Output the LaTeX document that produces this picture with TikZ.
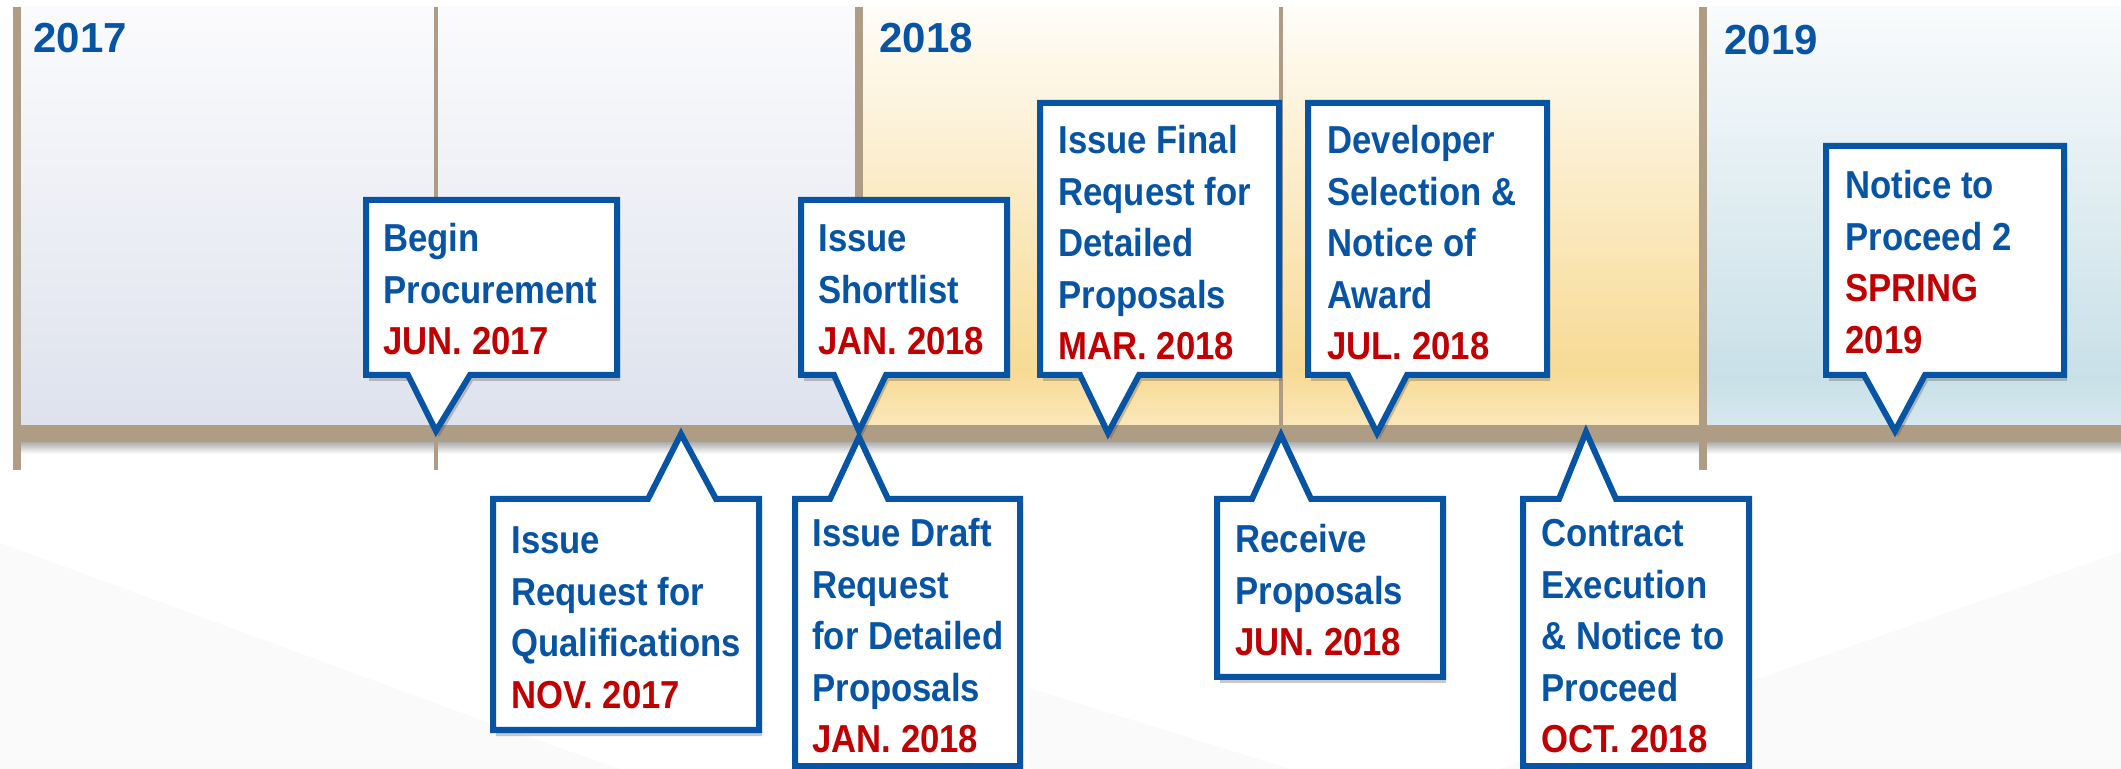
\documentclass[tikz,border=0pt]{standalone}
\usepackage{fontspec}
\setmainfont{Liberation Sans}
\newfontfamily\cfont{Liberation Sans}[FakeStretch=0.89]
\usetikzlibrary{shadows}
\definecolor{cblue}{RGB}{8,84,164}
\definecolor{cred}{RGB}{192,0,0}
\definecolor{bartan}{RGB}{174,156,132}
\definecolor{ptop}{RGB}{251,251,253}
\definecolor{pbot17}{RGB}{222,226,237}
\definecolor{pmid18}{RGB}{247,218,148}
\definecolor{pbot18}{RGB}{250,231,185}
\definecolor{ptop18}{RGB}{255,253,248}
\definecolor{pmid19}{RGB}{200,224,232}
\definecolor{pbot19}{RGB}{214,232,238}
\definecolor{ptop19}{RGB}{249,251,252}
\definecolor{wedge}{RGB}{250,250,251}
\newcommand\cb[1]{\begin{tabular}[t]{@{}l@{}}#1\end{tabular}}
\newcommand\dt[1]{\textcolor{cred}{#1}}
\newcommand\calloutup[7]{%
  \path[callout] (#1,#3) -- (#2,#3) -- (#2,#4) -- (#6,#4) -- (#7) -- (#5,#4) -- (#1,#4) -- cycle;}
\newcommand\calloutdown[7]{%
  \path[callout] (#1,#4) -- (#1,#3) -- (#5,#3) -- (#7) -- (#6,#3) -- (#2,#3) -- (#2,#4) -- cycle;}
\tikzset{
  callout/.style={draw=cblue, line width=3pt, fill=white, line join=miter,
    drop shadow={shadow xshift=1.5pt, shadow yshift=-3pt, opacity=0.3, fill=black!70}},
  txt/.style={anchor=base west, inner sep=0pt, text=cblue,
    font={\cfont\bfseries\fontsize{19.5pt}{25.75pt}\selectfont}},
  yearlbl/.style={anchor=base west, inner sep=0pt, text=cblue,
    font={\bfseries\fontsize{21pt}{25pt}\selectfont}},
  thickline/.style={draw=bartan, line width=4pt},
  thinline/.style={draw=bartan, line width=2pt}
}
\begin{document}
\begin{tikzpicture}[x=0.5pt,y=-0.5pt]
\useasboundingbox (0,0) rectangle (2121,769);
\fill[white] (0,0) rectangle (2121,769);
% faint background wedges
\fill[wedge] (0,543) -- (500,727) -- (620,769) -- (0,769) -- cycle;
\fill[wedge] (1029,688) -- (1290,769) -- (1029,769) -- cycle;
\fill[wedge] (1500,769) -- (2121,552) -- (2121,769) -- cycle;
% panels
\shade[top color=ptop, bottom color=pbot17] (17,7) rectangle (859,425);
\shade[top color=ptop18, bottom color=pmid18] (859,7) rectangle (1703,372);
\shade[top color=pmid18, bottom color=pbot18] (859,371) rectangle (1703,425);
\shade[top color=ptop19, bottom color=pmid19] (1703,7) rectangle (2121,380);
\shade[top color=pmid19, bottom color=pbot19] (1703,379) rectangle (2121,425);
% bar shadow and bar
\shade[top color=black!35, bottom color=white] (13,441) rectangle (2121,454);
\fill[bartan] (13,425) rectangle (2121,442);
% vertical lines
\draw[thickline] (17,7) -- (17,470);
\draw[thinline] (436,7) -- (436,470);
\draw[thickline] (859,7) -- (859,470);
\draw[thinline] (1281,7) -- (1281,470);
\draw[thickline] (1703,7) -- (1703,470);
% year labels
\node[yearlbl] (y17) at (33,53) {2017};
\node[yearlbl] (y18) at (879,53) {2018};
\node[yearlbl] (y19) at (1724,55) {2019};
% pointer tips on the bar
\coordinate (p1) at (436,431);
\coordinate (p2) at (859,431);
\coordinate (p3) at (1108,433);
\coordinate (p4) at (1377,433);
\coordinate (p5) at (1895,431);
\coordinate (p6) at (681,434);
\coordinate (p7) at (859,437);
\coordinate (p8) at (1281,435);
\coordinate (p9) at (1586,432);
% callouts above the bar
\calloutup{366}{617}{200}{375}{408}{470}{p1}
\calloutup{801}{1007}{200}{375}{834}{886}{p2}
\calloutup{1040}{1279}{103}{375}{1080}{1139}{p3}
\calloutup{1308}{1547}{103}{375}{1348}{1407}{p4}
\calloutup{1826}{2064}{146}{375}{1864}{1925}{p5}
% callouts below the bar
\calloutdown{493}{759}{499}{730}{648}{716}{p6}
\calloutdown{795}{1020}{499}{766}{830}{888}{p7}
\calloutdown{1217}{1443}{499}{677}{1252}{1311}{p8}
\calloutdown{1523}{1749}{499}{766}{1559}{1616}{p9}
% texts
\node[txt] (t1) at (383,252) {\cb{Begin\\Procurement\\\dt{JUN. 2017}}};
\node[txt] (t2) at (818,252) {\cb{Issue\\Shortlist\\\dt{JAN. 2018}}};
\node[txt] (t3) at (1058,154) {\cb{Issue Final\\Request for\\Detailed\\Proposals\\\dt{MAR. 2018}}};
\node[txt] (t4) at (1327,154) {\cb{Developer\\Selection \&\\Notice of\\Award\\\dt{JUL. 2018}}};
\node[txt] (t5) at (1845,199) {\cb{Notice to\\Proceed 2\\\dt{SPRING}\\\dt{2019}}};
\node[txt] (t6) at (511,554) {\cb{Issue\\Request for\\Qualifications\\\dt{NOV. 2017}}};
\node[txt] (t7) at (812,547) {\cb{Issue Draft\\Request\\for Detailed\\Proposals\\\dt{JAN. 2018}}};
\node[txt] (t8) at (1235,553) {\cb{Receive\\Proposals\\\dt{JUN. 2018}}};
\node[txt] (t9) at (1541,547) {\cb{Contract\\Execution\\\& Notice to\\Proceed\\\dt{OCT. 2018}}};
\end{tikzpicture}
\end{document}
